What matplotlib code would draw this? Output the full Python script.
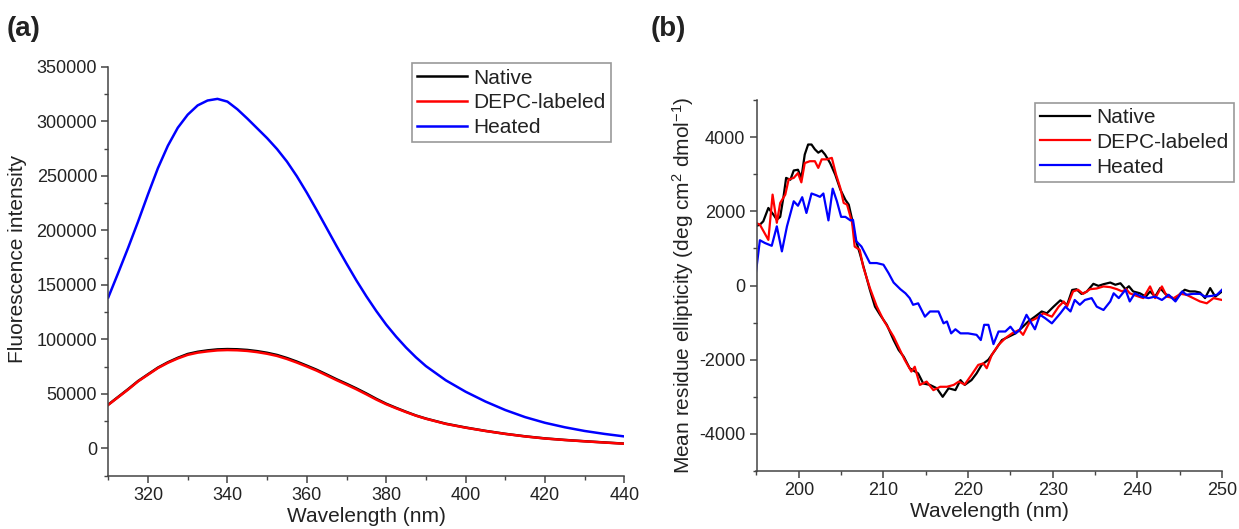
import matplotlib
matplotlib.use("Agg")
import matplotlib.pyplot as plt
from matplotlib.ticker import MultipleLocator

plt.rcParams['font.family'] = ['Liberation Sans', 'DejaVu Sans']
plt.rcParams['mathtext.fontset'] = 'custom'
plt.rcParams['mathtext.rm'] = 'Liberation Sans'
plt.rcParams['mathtext.it'] = 'Liberation Sans:italic'
plt.rcParams['axes.unicode_minus'] = False

# ---------------- Panel (a): fluorescence emission ----------------
fl_wavelength = [310, 312.5, 315, 317.5, 320, 322.5, 325, 327.5, 330, 332.5, 335, 337.5,
                 340, 342.5, 345, 347.5, 350, 352.5, 355, 357.5, 360, 362.5, 365, 367.5,
                 370, 372.5, 375, 377.5, 380, 382.5, 385, 387.5, 390, 395, 400, 405, 410,
                 415, 420, 425, 430, 435, 440]
fl_heated = [138500, 161000, 184000, 208000, 233000, 257000, 277500, 294000, 306000, 314500,
             319000, 320500, 318000, 311000, 302500, 293500, 284500, 274500, 263000, 249500,
             234500, 218500, 202000, 185500, 169500, 154000, 139500, 126000, 113500, 102500,
             92500, 83500, 75500, 62500, 52000, 43000, 35200, 28700, 23500, 19400, 16000,
             13300, 11000]
fl_native = [40200, 47300, 54400, 61800, 68000, 74100, 79000, 83100, 86600, 88600,
             89900, 90800, 91100, 90900, 90300, 89200, 87700, 85700, 82900, 79600,
             75900, 72100, 67800, 63400, 59300, 55000, 50400, 45500, 41000, 37200,
             33600, 30200, 27400, 22700, 19200, 16100, 13400, 11100, 9200, 7800, 6600,
             5500, 4400]
fl_depc = [40000, 47000, 54000, 61500, 67600, 73700, 78500, 82500, 85800, 87800,
           89000, 89900, 90200, 90000, 89400, 88300, 86800, 84800, 82000, 78700,
           75100, 71300, 67000, 62600, 58500, 54200, 49600, 44800, 40500, 36800,
           33300, 30000, 27200, 22500, 19000, 16000, 13300, 11000, 9100, 7700, 6500,
           5400, 4300]

# ---------------- Panel (b): CD spectra ----------------
cd_native_wl = [194.9, 195.4, 195.8, 196.4, 197.0, 197.4, 197.8, 198.2, 198.5, 199.0, 199.4,
                199.9, 200.3, 200.7, 201.1, 201.5, 201.9, 202.3, 202.7, 203.1, 203.7, 204.3,
                204.9, 205.5, 205.9, 206.3, 206.6, 207.2, 207.8, 208.4, 209.0, 209.6, 210.4,
                211.2, 211.8, 212.4, 213.1, 214.1, 214.7, 215.5, 216.3, 217.0, 217.7, 218.5,
                219.1, 219.6, 220.4, 221.0, 221.6, 222.4, 223.2, 224.0, 224.8, 225.6, 226.3,
                227.1, 227.9, 228.7, 229.3, 230.1, 230.9, 231.7, 232.3, 232.8, 233.4, 234.0,
                234.8, 235.4, 236.0, 236.8, 237.4, 238.0, 238.6, 239.0, 239.5, 240.3, 241.0,
                241.5, 242.1, 242.7, 243.3, 243.9, 244.5, 245.1, 245.6, 246.2, 246.8, 247.4,
                248.0, 248.6, 249.2, 250.0]
cd_native = [1600, 1640, 1730, 2090, 1910, 1775, 1850, 2405, 2900, 2850, 3100,
             3120, 2900, 3530, 3800, 3800, 3670, 3580, 3640, 3530, 3300, 2990,
             2590, 2310, 2180, 1775, 1325, 870, 380, -120, -570, -790, -1060,
             -1470, -1740, -1920, -2230, -2370, -2640, -2680, -2770, -3000, -2770, -2820,
             -2550, -2680, -2550, -2370, -2140, -2000, -1740, -1470, -1380, -1290, -1150,
             -970, -840, -700, -750, -570, -400, -520, -120, -100, -225, -170,
             45, -10, 35, 80, 20, 60, -100, -20, -160, -210, -300,
             -160, -300, -70, -225, -300, -390, -210, -115, -160, -160, -190,
             -340, -70, -300, -160]

cd_depc_wl = [194.9, 195.4, 196.4, 196.9, 197.4, 197.8, 198.4, 198.8, 199.4, 199.9, 200.3,
              200.7, 201.3, 201.9, 202.3, 202.7, 203.3, 203.9, 204.4, 204.9, 205.3, 205.7,
              206.3, 206.6, 207.2, 207.6, 208.4, 209.2, 210.0, 211.2, 212.5, 213.3, 213.7,
              214.3, 215.1, 215.9, 216.7, 217.5, 218.3, 218.9, 219.6, 220.4, 221.2, 221.8,
              222.2, 222.8, 223.6, 224.4, 225.2, 226.0, 226.5, 227.3, 228.1, 228.9, 229.9,
              230.7, 231.3, 231.7, 232.4, 233.0, 233.6, 234.4, 235.2, 236.0, 236.8, 237.6,
              238.2, 238.7, 239.1, 239.9, 240.7, 241.5, 242.1, 242.9, 243.5, 244.3, 245.1,
              245.8, 246.6, 247.4, 248.2, 249.0, 250.0]
cd_depc = [1690, 1640, 1230, 2450, 1690, 2225, 2450, 2860, 2900, 3030, 2780,
           3300, 3350, 3350, 3170, 3400, 3400, 3440, 2990, 2630, 2225, 2180,
           1690, 1050, 960, 510, -70, -560, -930, -1380, -2000, -2320, -2190,
           -2680, -2590, -2820, -2730, -2730, -2680, -2590, -2670, -2410, -2140, -2100,
           -2230, -1870, -1600, -1420, -1290, -1200, -1330, -970, -880, -750, -840,
           -570, -430, -560, -160, -115, -225, -100, -80, -25, -45, -100,
           -160, -100, -210, -280, -340, -25, -340, -25, -300, -340, -225,
           -250, -340, -430, -480, -340, -390]

cd_heated_wl = [194.9, 195.4, 196.0, 196.8, 197.4, 198.0, 198.6, 199.4, 199.9, 200.4, 200.9,
                201.5, 202.1, 202.5, 202.9, 203.5, 204.0, 204.5, 205.0, 205.5, 206.1, 206.4,
                206.8, 207.4, 208.0, 208.4, 209.2, 210.0, 210.6, 211.2, 212.0, 212.6, 213.1,
                213.5, 214.1, 214.9, 215.5, 216.5, 217.1, 217.5, 218.0, 218.5, 219.1, 220.0,
                221.0, 221.5, 221.9, 222.4, 223.0, 223.6, 224.4, 225.0, 225.6, 226.1, 226.9,
                227.9, 228.5, 229.1, 229.9, 230.9, 231.5, 232.1, 232.6, 233.2, 233.8, 234.6,
                235.2, 236.0, 236.8, 237.2, 237.8, 238.6, 239.1, 239.7, 240.5, 241.3, 242.1,
                242.9, 243.7, 244.5, 245.3, 245.8, 246.6, 247.4, 248.0, 248.8, 249.4, 250.0]
cd_heated = [290, 1220, 1145, 1070, 1595, 920, 1595, 2270, 2150, 2380, 1955,
             2480, 2430, 2390, 2480, 1755, 2610, 2270, 1850, 1850, 1755, 1770,
             1190, 1050, 785, 605, 605, 560, 335, 80, -100, -210, -340,
             -520, -480, -840, -700, -700, -1020, -970, -1290, -1180, -1290, -1290,
             -1330, -1470, -1060, -1060, -1580, -1240, -1240, -1110, -1290, -1200, -790,
             -1180, -790, -880, -1020, -750, -570, -700, -390, -520, -390, -340,
             -570, -660, -430, -210, -340, -115, -430, -210, -300, -340, -300,
             -390, -250, -430, -160, -250, -225, -225, -300, -280, -250, -115]

series_labels = ['Native', 'DEPC-labeled', 'Heated']
series_colors = ['#000000', '#ff0000', '#0000ff']

W, H = 1239, 529
fig = plt.figure(figsize=(W / 100, H / 100), dpi=100)

def px_axes(l, t, r, b):
    return fig.add_axes([l / W, 1 - b / H, (r - l) / W, (b - t) / H])

axA = px_axes(108.3, 66.7, 624.4, 475.7)
axB = px_axes(756.5, 100, 1222, 471)

text_color = '#222222'
spine_color = '#444444'

def style(ax):
    for s in ['top', 'right']:
        ax.spines[s].set_visible(False)
    for s in ['left', 'bottom']:
        ax.spines[s].set_color(spine_color)
        ax.spines[s].set_linewidth(1.1)
    ax.tick_params(which='major', direction='out', length=5, width=1.1,
                   color=spine_color, labelsize=13, labelcolor=text_color, pad=3)
    ax.tick_params(which='minor', direction='out', length=3, width=1.0,
                   color=spine_color)

# Panel (a)
for y, lab, c in zip([fl_native, fl_depc, fl_heated], series_labels, series_colors):
    axA.plot(fl_wavelength, y, color=c, lw=1.8, label=lab)
axA.set_xlim(310, 440)
axA.set_ylim(-25000, 350000)
axA.xaxis.set_major_locator(MultipleLocator(20))
axA.xaxis.set_minor_locator(MultipleLocator(10))
axA.yaxis.set_major_locator(MultipleLocator(50000))
axA.yaxis.set_minor_locator(MultipleLocator(25000))
axA.set_xticks([320, 340, 360, 380, 400, 420, 440])
style(axA)
axA.set_xlabel('Wavelength (nm)', fontsize=15, color=text_color, labelpad=2)
axA.set_ylabel('Fluorescence intensity', fontsize=15, color=text_color)
axA.yaxis.set_label_coords(-0.158, 0.53)

# Panel (b)
for x, y, lab, c in zip([cd_native_wl, cd_depc_wl, cd_heated_wl],
                        [cd_native, cd_depc, cd_heated], series_labels, series_colors):
    axB.plot(x, y, color=c, lw=1.6, label=lab)
axB.set_xlim(195, 250)
axB.set_ylim(-5000, 5000)
axB.set_xticks([200, 210, 220, 230, 240, 250])
axB.xaxis.set_minor_locator(MultipleLocator(5))
axB.set_yticks([-4000, -2000, 0, 2000, 4000])
axB.yaxis.set_minor_locator(MultipleLocator(1000))
style(axB)
axB.set_xlabel('Wavelength (nm)', fontsize=15, color=text_color, labelpad=2)
axB.set_ylabel(r'Mean residue ellipticity (deg cm$^2$ dmol$^{-1}$)', fontsize=15,
               color=text_color)
axB.yaxis.set_label_coords(-0.13, 0.5)

legend_kw = dict(loc='upper left', bbox_transform=fig.transFigure, borderaxespad=0,
                 fancybox=False, framealpha=1, edgecolor='#999999', fontsize=15,
                 handlelength=2.4, handletextpad=0.3, labelspacing=0.28, borderpad=0.25)
lgA = axA.legend(bbox_to_anchor=(411.7 / W, 1 - 63.3 / H), **legend_kw)
lgB = axB.legend(bbox_to_anchor=(1035 / W, 1 - 102.7 / H), **legend_kw)
for lg in (lgA, lgB):
    lg.get_frame().set_linewidth(1.2)
    for t in lg.get_texts():
        t.set_color(text_color)

fig.text(7 / W, 1 - 29 / H, '(a)', fontsize=20, fontweight='bold', va='center', ha='left',
         color=text_color)
fig.text(651 / W, 1 - 29 / H, '(b)', fontsize=20, fontweight='bold', va='center', ha='left',
         color=text_color)

fig.savefig('out.png', dpi=100)
